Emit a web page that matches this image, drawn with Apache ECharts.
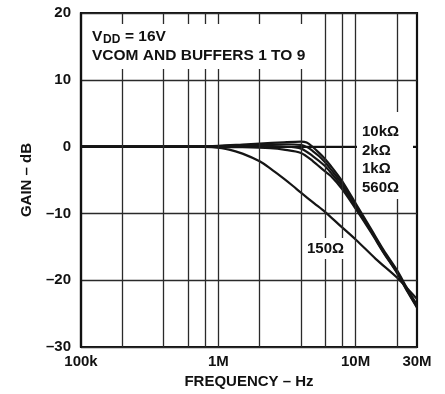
<!DOCTYPE html>
<html>
<head>
<meta charset="utf-8">
<script src="https://cdn.jsdelivr.net/npm/echarts@6/dist/echarts.min.js"></script>
<style>html,body{margin:0;padding:0;background:#fff}#c{width:445px;height:394px}</style>
</head>
<body>
<div id="c"></div>
<script>
// Frequencies in Hz, gains in dB
var f150 = [1e5, 3e5, 7e5, 9e5, 1.2e6, 1.5e6, 2e6, 2.4e6, 3e6, 3.5e6, 4e6, 5e6, 6e6, 7.5e6, 1e7, 1.4e7, 2e7, 2.4e7, 2.8e7];
var g150 = [0, 0, 0, -0.1, -0.45, -1.05, -2.2, -3.3, -4.8, -5.9, -6.9, -8.5, -9.8, -11.6, -13.9, -16.8, -19.6, -21.3, -22.8];

var f10k = [1e5, 5e5, 8e5, 1e6, 1.5e6, 2e6, 3e6, 4e6, 4.4e6, 4.9e6, 5.4e6, 5.9e6, 6.6e6, 8e6, 1e7, 1.3e7, 1.6e7, 2e7, 2.4e7, 2.8e7];
var g10k = [0, 0, 0.05, 0.1, 0.3, 0.45, 0.65, 0.75, 0.6, -0.1, -0.9, -1.7, -2.9, -5.2, -8.5, -12.4, -15.5, -18.5, -21.4, -23.7];

var f2k = [1e5, 6e5, 1e6, 2e6, 3e6, 4e6, 4.5e6, 4.9e6, 5.4e6, 5.9e6, 6.6e6, 8e6, 1e7, 1.3e7, 1.6e7, 2e7, 2.4e7, 2.8e7];
var g2k = [0, 0, 0.05, 0.3, 0.35, 0.25, -0.15, -0.7, -1.4, -2.2, -3.4, -5.6, -8.8, -12.6, -15.7, -18.7, -21.6, -23.9];

var f1k = [1e5, 7e5, 1e6, 2e6, 3e6, 4e6, 4.9e6, 5.9e6, 6.6e6, 8e6, 1e7, 1.3e7, 1.6e7, 2e7, 2.4e7, 2.8e7];
var g1k = [0, 0, 0, 0.1, 0.0, -0.3, -1.45, -2.8, -3.9, -6.0, -9.0, -12.7, -15.8, -18.8, -21.7, -24.0];

var f560 = [1e5, 7e5, 1e6, 1.5e6, 2.4e6, 3e6, 4e6, 4.9e6, 5.9e6, 6.6e6, 8e6, 1e7, 1.3e7, 1.6e7, 2e7, 2.4e7, 2.8e7];
var g560 = [0, 0, -0.05, -0.1, -0.25, -0.45, -0.95, -2.2, -3.6, -4.4, -6.4, -9.3, -12.9, -15.9, -18.9, -21.8, -24.1];

// vertical grid lines (Hz)
var xGrid = [2e5, 4e5, 6e5, 8e5, 1e6, 2e6, 4e6, 6e6, 8e6, 1e7, 2e7];
var xTickLabels = {'100000': '100k', '1000000': '1M', '10000000': '10M'};
var xMaxLabel = '30M';

var curveLabels = ['10k\u03a9', '2k\u03a9', '1k\u03a9', '560\u03a9'];
var label150 = '150\u03a9';

function pairs(f, g) { return f.map(function (v, i) { return [v, g[i]]; }); }

var FONT = 'Liberation Sans, Arial, Helvetica, sans-serif';
var lineStyle = {color: '#151515', width: 2.2};

function curve(name, f, g, extra) {
  var s = {
    name: name, type: 'line', data: pairs(f, g), symbol: 'none', smooth: 0.3,
    lineStyle: lineStyle, silent: true, z: 3
  };
  if (extra) for (var k in extra) s[k] = extra[k];
  return s;
}

var chart = echarts.init(document.getElementById('c'), null, {renderer: 'canvas'});

var graphics = [
  {type: 'rect', shape: {x: 86, y: 24, width: 226, height: 45}, style: {fill: '#fff'}, z: 100},
  {type: 'rect', shape: {x: 357, y: 112, width: 56, height: 87}, style: {fill: '#fff'}, z: 100},
  {type: 'rect', shape: {x: 305, y: 238, width: 42, height: 21}, style: {fill: '#fff'}, z: 100},
  {type: 'text', x: 92, y: 37, style: {text: 'V', font: 'bold 15.5px ' + FONT, fill: '#111', verticalAlign: 'middle'}, z: 101},
  {type: 'text', x: 103, y: 40, style: {text: 'DD', font: 'bold 12px ' + FONT, fill: '#111', verticalAlign: 'middle'}, z: 101},
  {type: 'text', x: 125, y: 37, style: {text: '= 16V', font: 'bold 15.5px ' + FONT, fill: '#111', verticalAlign: 'middle'}, z: 101},
  {type: 'text', x: 92, y: 55.5, style: {text: 'VCOM AND BUFFERS 1 TO 9', font: 'bold 15.5px ' + FONT, fill: '#111', verticalAlign: 'middle'}, z: 101},
  {type: 'text', x: 307, y: 248.5, style: {text: label150, font: 'bold 15px ' + FONT, fill: '#111', verticalAlign: 'middle'}, z: 101}
];
var ys = [132, 150.5, 169, 188];
curveLabels.forEach(function (t, i) {
  graphics.push({type: 'text', x: 362, y: ys[i], style: {text: t, font: 'bold 15px ' + FONT, fill: '#111', verticalAlign: 'middle'}, z: 101});
});

chart.setOption({
  animation: false,
  backgroundColor: '#fff',
  grid: {left: 81, right: 28, top: 13, bottom: 46, show: true, borderColor: '#111', borderWidth: 2.2, backgroundColor: 'transparent'},
  xAxis: {
    type: 'log', logBase: 10, min: 1e5, max: 2.8e7,
    axisLine: {show: true, lineStyle: {color: '#111', width: 2.2}},
    axisTick: {show: false},
    splitLine: {show: false},
    minorTick: {show: false},
    axisLabel: {
      color: '#111', fontWeight: 'bold', fontSize: 15, fontFamily: FONT, margin: 7,
      showMinLabel: true, showMaxLabel: true,
      formatter: function (v) {
        var key = String(Math.round(v));
        if (xTickLabels[key]) return xTickLabels[key];
        if (v > 2e7) return xMaxLabel;
        return '';
      }
    },
    name: 'FREQUENCY \u2013 Hz', nameLocation: 'middle', nameGap: 27,
    nameTextStyle: {color: '#111', fontWeight: 'bold', fontSize: 15, fontFamily: FONT}
  },
  yAxis: {
    type: 'value', min: -30, max: 20, interval: 10,
    axisLine: {show: true, lineStyle: {color: '#111', width: 2.2}},
    axisTick: {show: false},
    splitLine: {show: true, lineStyle: {color: '#2a2a2a', width: 1.3}},
    axisLabel: {
      color: '#111', fontWeight: 'bold', fontSize: 15, fontFamily: FONT, margin: 10,
      formatter: function (v) { return v < 0 ? '\u2013' + Math.abs(v) : String(v); }
    },
    name: 'GAIN \u2013 dB', nameLocation: 'middle', nameGap: 47, nameRotate: 90,
    nameTextStyle: {color: '#111', fontWeight: 'bold', fontSize: 15, fontFamily: FONT}
  },
  series: [
    curve('150', f150, g150, {
      markLine: {
        silent: true, symbol: ['none', 'none'], label: {show: false},
        lineStyle: {color: '#2a2a2a', width: 1.3, type: 'solid'},
        data: xGrid.map(function (v) { return {xAxis: v}; })
      }
    }),
    curve('10k', f10k, g10k),
    curve('2k', f2k, g2k),
    curve('1k', f1k, g1k),
    curve('560', f560, g560)
  ],
  graphic: graphics
});
</script>
</body>
</html>
